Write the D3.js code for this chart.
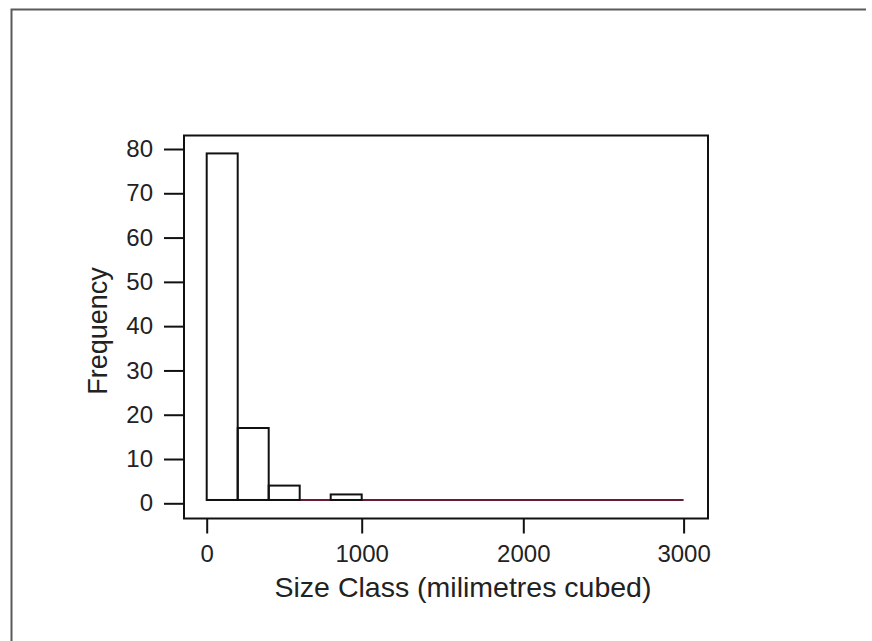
<!DOCTYPE html>
<html>
<head>
<meta charset="utf-8">
<script src="https://cdn.jsdelivr.net/npm/d3@7"></script>
<style>
  html, body { margin: 0; padding: 0; background: #fff; }
  svg { display: block; font-family: "Liberation Sans", Arial, sans-serif; }
</style>
</head>
<body>
<svg id="chart" width="872" height="641"></svg>
<script>
// ---- data ----
const binLow   = [0, 200, 400, 600, 800];
const binHigh  = [200, 400, 600, 800, 1000];
const counts   = [79, 17, 4, 0, 2];
const xTicks   = [0, 1000, 2000, 3000];
const yTicks   = [0, 10, 20, 30, 40, 50, 60, 70, 80];
const xMax     = 3000;
const baselineValue = 0.75;   // histogram baseline sits slightly above the 0 tick
const xTitle   = "Size Class (milimetres cubed)";
const yTitle   = "Frequency";

// ---- layout ----
const svg = d3.select("#chart");
const box = { left: 184, top: 135.5, right: 708, bottom: 518.5 };

// piecewise scale follows the (slightly uneven) scanned axis
const x = d3.scaleLinear().domain(xTicks).range([206.7, 361.7, 523.3, 683.6]);
const y = d3.scaleLinear().domain([0, 80]).range([503.3, 149]);

// outer frame (left & top edges visible)
svg.append("path")
  .attr("d", "M11.5,641 L11.5,9.5 L866,9.5")
  .attr("fill", "none").attr("stroke", "#5a5a5a").attr("stroke-width", 2);

// plot box
svg.append("rect")
  .attr("x", box.left).attr("y", box.top)
  .attr("width", box.right - box.left).attr("height", box.bottom - box.top)
  .attr("fill", "none").attr("stroke", "#111").attr("stroke-width", 2);

// baseline line
svg.append("line")
  .attr("x1", x(0)).attr("x2", x(xMax))
  .attr("y1", y(baselineValue)).attr("y2", y(baselineValue))
  .attr("stroke", "#6a1a35").attr("stroke-width", 2);

// bars
const bins = counts.map((c, i) => ({ lo: binLow[i], hi: binHigh[i], c }));
svg.append("g").selectAll("rect")
  .data(bins.filter(d => d.c > 0))
  .join("rect")
  .attr("x", d => x(d.lo))
  .attr("width", d => x(d.hi) - x(d.lo))
  .attr("y", d => y(d.c))
  .attr("height", d => y(baselineValue) - y(d.c))
  .attr("fill", "none")
  .attr("stroke", "#111")
  .attr("stroke-width", 2);

// y axis
const yAxis = svg.append("g")
  .attr("transform", `translate(${box.left},0)`)
  .call(d3.axisLeft(y).tickValues(yTicks).tickSize(20).tickPadding(11));
yAxis.select(".domain").remove();
yAxis.selectAll(".tick line").attr("stroke", "#111").attr("stroke-width", 2);
yAxis.selectAll(".tick text")
  .attr("fill", "#222").style("font-size", "24px")
  .style("font-family", "'Liberation Sans', Arial, sans-serif");

// x axis
const xAxis = svg.append("g")
  .attr("transform", `translate(0,${box.bottom})`)
  .call(d3.axisBottom(x).tickValues(xTicks).tickFormat(d3.format("d")).tickSize(15).tickPadding(11));
xAxis.select(".domain").remove();
xAxis.selectAll(".tick line").attr("stroke", "#111").attr("stroke-width", 2);
xAxis.selectAll(".tick text")
  .attr("fill", "#222").style("font-size", "24px")
  .style("font-family", "'Liberation Sans', Arial, sans-serif");

// titles
svg.append("text")
  .attr("x", 463).attr("y", 597)
  .attr("text-anchor", "middle")
  .attr("fill", "#222")
  .style("font-size", "28.5px")
  .text(xTitle);

svg.append("text")
  .attr("transform", "translate(107,331) rotate(-90)")
  .attr("text-anchor", "middle")
  .attr("fill", "#222")
  .style("font-size", "27px")
  .text(yTitle);
</script>
</body>
</html>
